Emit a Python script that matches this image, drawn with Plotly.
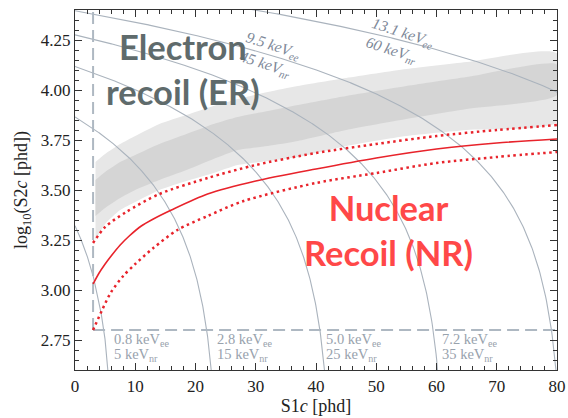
import numpy as np
import plotly.graph_objects as go

# ---------------- data ----------------
# NR band: median and 10/90% quantiles, log10(S2c) vs S1c [phd]
nr_med_s1 = [3, 4, 5, 6, 7.5, 9, 11, 13, 16, 22, 30, 40, 50, 60, 70, 80]
nr_med = [3.03, 3.085, 3.13, 3.17, 3.225, 3.27, 3.32, 3.355, 3.40, 3.48, 3.545, 3.605,
          3.66, 3.705, 3.735, 3.755]
nr_up_s1 = [3, 5, 8.5, 14, 22, 30, 40, 50, 60, 70, 80]
nr_up = [3.235, 3.315, 3.39, 3.48, 3.56, 3.625, 3.685, 3.73, 3.77, 3.80, 3.825]
nr_lo_s1 = [3, 4.5, 6, 8, 10, 13, 17, 22, 28, 40, 50, 60, 70, 80]
nr_lo = [2.80, 2.90, 2.99, 3.07, 3.13, 3.21, 3.30, 3.37, 3.445, 3.535, 3.585, 3.635, 3.665, 3.69]

# ER band: outer (light) and inner (dark) regions
er_s1 = [3.4, 5, 7.5, 10, 14, 18.5, 23, 27, 32, 37, 45, 55, 65, 80]
er_outer_top = [3.64, 3.68, 3.73, 3.77, 3.83, 3.875, 3.92, 3.955, 3.99, 4.02, 4.06, 4.105, 4.14, 4.183]
er_inner_top = [3.55, 3.59, 3.64, 3.675, 3.73, 3.78, 3.83, 3.865, 3.895, 3.925, 3.97, 4.02, 4.065, 4.128]
er_inner_bot = [3.37, 3.41, 3.46, 3.50, 3.55, 3.60, 3.655, 3.70, 3.72, 3.745, 3.80, 3.855, 3.905, 3.975]
er_outer_bot = [3.25, 3.33, 3.40, 3.44, 3.50, 3.545, 3.585, 3.625, 3.645, 3.665, 3.72, 3.77, 3.80, 3.84]

# energy contours (electron-equivalent and nuclear-recoil labels)
contour_kev_ee = [0.8, 2.8, 5.0, 7.2, 9.5, 13.1]
contour_kev_nr = [5, 15, 25, 35, 45, 60]
W_KEV = 0.0137   # keV per quantum
G1 = 0.117       # phd per photon
G2 = 35.9        # phd per electron

# analysis thresholds
s1_threshold = 3.0
log_s2_threshold = 2.8

X_RANGE = [0, 80]
Y_RANGE = [2.6, 4.4]

CONTOUR_COLOR = "#aab3bd"
LABEL_COLOR = "#7d8898"
BOTTOM_LABEL_COLOR = "#98a2ad"
RED = "#e8232b"
SERIF = "Liberation Serif, Times New Roman, serif"

fig = go.Figure()

# ER band
def band(x, top, bot, color):
    fig.add_trace(go.Scatter(
        x=list(x) + list(x)[::-1],
        y=list(top) + list(bot)[::-1],
        fill="toself", fillcolor=color, mode="lines",
        line=dict(width=0, color=color, shape="spline", smoothing=0.6),
        hoverinfo="skip"))

band(er_s1, er_outer_top, er_outer_bot, "#e7e7e7")
band(er_s1, er_inner_top, er_inner_bot, "#d5d5d5")

# energy contours: E = W * (S1/g1 + S2/g2)
for e in contour_kev_ee:
    n = e / W_KEV
    s1 = np.linspace(0, G1 * n * 0.9995, 600)
    s2 = G2 * (n - s1 / G1)
    fig.add_trace(go.Scatter(x=s1, y=np.log10(s2), mode="lines",
                             line=dict(color=CONTOUR_COLOR, width=1.1),
                             hoverinfo="skip"))

# threshold lines
fig.add_trace(go.Scatter(x=[s1_threshold, s1_threshold], y=[log_s2_threshold, Y_RANGE[1]],
                         mode="lines", line=dict(color="#aeb8c2", width=2, dash="12px,6px")))
fig.add_trace(go.Scatter(x=[s1_threshold, X_RANGE[1]], y=[log_s2_threshold, log_s2_threshold],
                         mode="lines", line=dict(color="#aeb8c2", width=2, dash="12px,6px")))

# NR band lines
fig.add_trace(go.Scatter(x=nr_up_s1, y=nr_up, mode="lines",
                         line=dict(color=RED, width=2.5, dash="2.5px,3.5px",
                                   shape="spline", smoothing=0.8)))
fig.add_trace(go.Scatter(x=nr_lo_s1, y=nr_lo, mode="lines",
                         line=dict(color=RED, width=2.5, dash="2.5px,3.5px",
                                   shape="spline", smoothing=0.8)))
fig.add_trace(go.Scatter(x=nr_med_s1, y=nr_med, mode="lines",
                         line=dict(color=RED, width=1.6, shape="spline", smoothing=0.8)))

# contour labels along the bottom
bottom_label_pos = [6.2, 23.3, 41.4, 60.5]
for i, xpos in enumerate(bottom_label_pos):
    fig.add_annotation(x=xpos, y=2.752, xref="x", yref="y", xanchor="left", yanchor="middle",
                       text=f"{contour_kev_ee[i]:.1f} keV<sub>ee</sub>", showarrow=False,
                       font=dict(family=SERIF, size=14.5, color=BOTTOM_LABEL_COLOR))
    fig.add_annotation(x=xpos, y=2.675, xref="x", yref="y", xanchor="left", yanchor="middle",
                       text=f"{contour_kev_nr[i]} keV<sub>nr</sub>", showarrow=False,
                       font=dict(family=SERIF, size=14.5, color=BOTTOM_LABEL_COLOR))

# contour labels along the top (rotated)
top_label_pos = [(32.4, 4.175), (53.9, 4.24)]
for (xpos, ypos), i in zip(top_label_pos, [4, 5]):
    fig.add_annotation(x=xpos, y=ypos, xref="x", yref="y",
                       text=f"<i>{contour_kev_ee[i]} keV<sub>ee</sub><br>{contour_kev_nr[i]} keV<sub>nr</sub></i>",
                       showarrow=False, textangle=18, align="left",
                       font=dict(family=SERIF, size=15.5, color=LABEL_COLOR))

# region labels
fig.add_annotation(x=17.9, y=4.105, xref="x", yref="y", text="Electron<br>recoil (ER)",
                   showarrow=False, align="center",
                   font=dict(family="Lato", size=34.5, color="#5f6b6c", weight=700))
fig.add_annotation(x=52.0, y=3.30, xref="x", yref="y", text="Nuclear<br>Recoil (NR)",
                   showarrow=False, align="center",
                   font=dict(family="Lato", size=34.5, color="#ff4848", weight=700))

axis_common = dict(
    showline=True, linecolor="#333333", linewidth=1.2, mirror="allticks",
    ticks="inside", ticklen=7, tickwidth=1, tickcolor="#333333",
    showgrid=False, zeroline=False, automargin=False,
    tickfont=dict(family=SERIF, size=17, color="#222222"),
)

fig.update_xaxes(range=X_RANGE, dtick=10, tick0=0,
                 minor=dict(dtick=2, ticks="inside", ticklen=4, tickcolor="#333333"),
                 title=dict(text="S1<i>c</i> [phd]", font=dict(family=SERIF, size=18, color="#222222"),
                            standoff=4),
                 **axis_common)
fig.update_yaxes(range=Y_RANGE, dtick=0.25, tick0=0, tickformat=".2f",
                 minor=dict(dtick=0.05, ticks="inside", ticklen=4, tickcolor="#333333"),
                 title=dict(text="log<sub>10</sub>(S2<i>c</i> [phd])",
                            font=dict(family=SERIF, size=18, color="#222222"), standoff=8),
                 **axis_common)

fig.update_layout(width=568, height=418, margin=dict(l=75, r=11, t=10, b=48),
                  font=dict(family=SERIF, color="#222222"),
                  plot_bgcolor="white", paper_bgcolor="white", showlegend=False)

fig.write_html("out.html")
